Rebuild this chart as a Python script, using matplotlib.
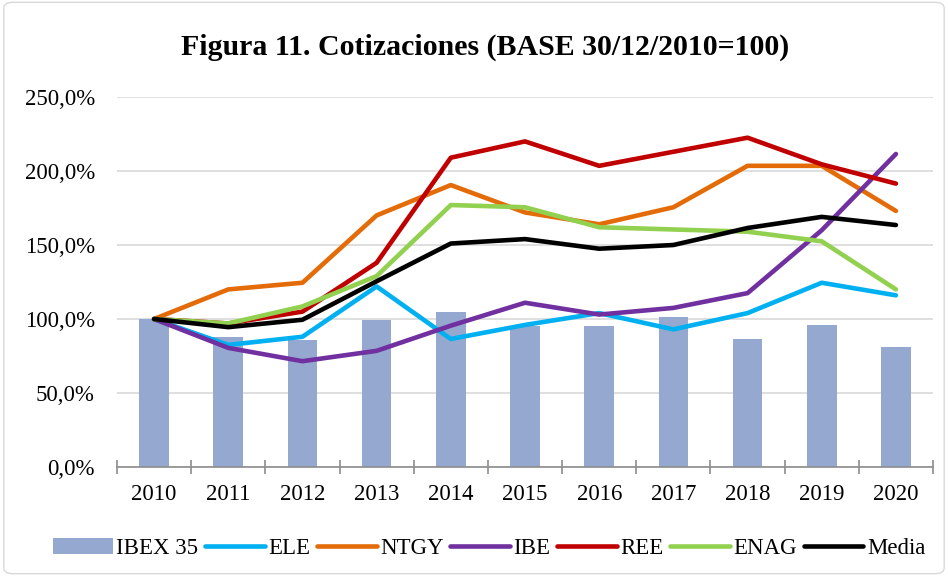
import matplotlib
matplotlib.use('Agg')
import matplotlib.pyplot as plt
import matplotlib.patches as mpatches
from matplotlib.ticker import FuncFormatter, FixedLocator
import numpy as np

plt.rcParams['font.family'] = ['Liberation Serif', 'DejaVu Serif']

# ── Datos (índice base 2010 = 100%) ────────────────────────────────────────────
anios = ['2010', '2011', '2012', '2013', '2014', '2015',
         '2016', '2017', '2018', '2019', '2020']
ibex = [100, 88, 85.5, 99, 104.5, 95.5, 95, 101.5, 86.5, 96, 81]
ele  = [100, 82.5, 88, 122, 86.5, 96, 104, 93, 104, 124.5, 116]
ntgy = [100, 120, 124.5, 170, 190.5, 172, 164, 175.5, 203.5, 203.5, 173]
ibe  = [100, 80.5, 71.5, 78.5, 95.5, 111, 103, 107.5, 117.5, 160, 211.5]
ree  = [100, 97, 105, 138, 209, 220, 203.5, 213, 222.5, 204.5, 191.5]
enag = [100, 97, 108.5, 129, 177, 175.5, 162, 160.5, 159, 152.5, 120]
media = [100, 94.5, 99.5, 125.5, 151, 154, 147.5, 150, 161.5, 169, 163.5]

series = [('ELE', ele, '#00B0F0'),
          ('NTGY', ntgy, '#E36C09'),
          ('IBE', ibe, '#7030A0'),
          ('REE', ree, '#C00000'),
          ('ENAG', enag, '#92D050'),
          ('Media', media, '#000000')]

# ── Figura ─────────────────────────────────────────────────────────────────────
fig = plt.figure(figsize=(9.48, 5.76), dpi=100, facecolor='white')
ax = fig.add_axes([0.1234, 0.1892, 0.8608, 0.6424])

x = np.arange(len(anios))
ax.bar(x, ibex, width=0.4, color='#95A9D0', zorder=2, label='IBEX 35')
for nombre, vals, cor in series:
    ax.plot(x, vals, color=cor, linewidth=3.3, solid_capstyle='round',
            solid_joinstyle='round', zorder=3, label=nombre)

ax.set_xlim(-0.5, len(anios) - 0.5)
ax.set_ylim(0, 250)
ax.set_yticks(np.arange(0, 251, 50))
ax.yaxis.set_major_formatter(FuncFormatter(lambda v, p: f'{v:.1f}%'.replace('.', ',')))
ax.grid(axis='y', color='#D9D9D9', linewidth=1.2, zorder=0)
ax.set_axisbelow(True)

ax.set_xticks(x)
ax.set_xticklabels(anios)
ax.xaxis.set_minor_locator(FixedLocator(np.arange(-0.5, len(anios), 1)))
ax.tick_params(axis='x', which='major', length=0, pad=12, labelsize=16.5)
ax.tick_params(axis='x', which='minor', direction='inout', length=10,
               color='#8C8C8C', width=1.2)
ax.tick_params(axis='y', length=0, pad=16, labelsize=16.5)

for s in ['top', 'right', 'left']:
    ax.spines[s].set_visible(False)
ax.spines['bottom'].set_color('#8C8C8C')
ax.spines['bottom'].set_linewidth(1.2)

fig.text(0.512, 0.918, 'Figura 11. Cotizaciones (BASE 30/12/2010=100)',
         ha='center', va='center', fontsize=21.5, fontweight='bold')

handles, labels = ax.get_legend_handles_labels()
order = [labels.index(l) for l in ['IBEX 35', 'ELE', 'NTGY', 'IBE', 'REE', 'ENAG', 'Media']]
leg = fig.legend([handles[i] for i in order], [labels[i] for i in order],
                 loc='center', bbox_to_anchor=(0.516, 0.048), ncol=7,
                 frameon=False, fontsize=16.5, handlelength=2.6,
                 handletextpad=0.15, columnspacing=0.3, borderaxespad=0)

# Marco del gráfico
fig.patches.append(mpatches.FancyBboxPatch((0.004, 0.004), 0.992, 0.992,
                   boxstyle='round,pad=0,rounding_size=0.01',
                   transform=fig.transFigure, fill=False,
                   edgecolor='#D9D9D9', linewidth=1))

fig.savefig('out.png', dpi=100, facecolor='white')
